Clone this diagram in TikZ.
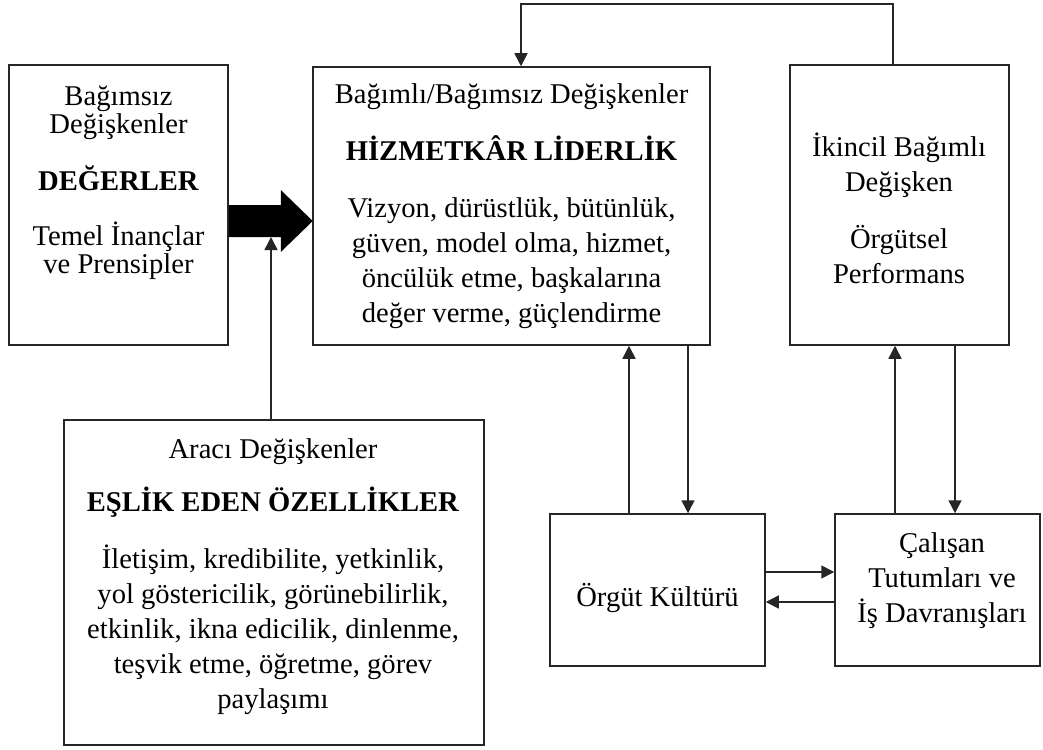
\documentclass[tikz,border=0pt]{standalone}
\usepackage{fontspec}
\setmainfont{Liberation Serif}
\usetikzlibrary{arrows.meta}

\begin{document}
\begin{tikzpicture}[x=1pt, y=-1pt,
    box/.style={draw=black!85, line width=1.5pt, inner sep=0pt},
    txt/.style={align=center, inner sep=0pt, anchor=base, font=\fontsize{28.6}{35}\selectfont},
    arr/.style={draw=black!85, line width=1.5pt, -{Triangle[length=13pt, width=13pt]}}]
    \useasboundingbox (0,0) rectangle (1043,749);

    % Boxes
    \node[box, minimum width=219, minimum height=280] (values)      at (118.5,205) {};
    \node[box, minimum width=397, minimum height=278] (leadership)  at (511.5,206) {};
    \node[box, minimum width=219, minimum height=280] (performance) at (899.5,205) {};
    \node[box, minimum width=420, minimum height=325] (traits)      at (274,582.5) {};
    \node[box, minimum width=215, minimum height=152] (culture)     at (657.5,590) {};
    \node[box, minimum width=205, minimum height=152] (attitudes)   at (937.5,590) {};

    % Texts (placed at the baseline of their last line)
    \node[txt, font=\fontsize{28.6}{28}\selectfont] (valuestext) at (118.5,273)
        {Bağımsız\\Değişkenler\\[25pt]\textbf{DEĞERLER}\\[27pt]Temel İnançlar\\ve Prensipler};
    \node[txt] (leadershiptext) at (511.5,322)
        {Bağımlı/Bağımsız Değişkenler\\[22pt]\textbf{HİZMETKÂR LİDERLİK}\\[22pt]Vizyon, dürüstlük, bütünlük,\\güven, model olma, hizmet,\\öncülük etme, başkalarına\\değer verme, güçlendirme};
    \node[txt] (performancetext) at (899,283)
        {İkincil Bağımlı\\Değişken\\[22pt]Örgütsel\\Performans};
    \node[txt] (traitstext) at (273,708)
        {Aracı Değişkenler\\[18pt]\textbf{EŞLİK EDEN ÖZELLİKLER}\\[22pt]İletişim, kredibilite, yetkinlik,\\yol göstericilik, görünebilirlik,\\etkinlik, ikna edicilik, dinlenme,\\teşvik etme, öğretme, görev\\paylaşımı};
    \node[txt] (culturetext) at (657.5,606) {Örgüt Kültürü};
    \node[txt] (attitudestext) at (942,622) {Çalışan\\Tutumları ve\\İş Davranışları};

    % Block arrow values -> leadership
    \fill[black] (values.east) -- ++(52,0) -- ++(0,-15) -- ++(32,31) -- ++(-32,31)
        -- ++(0,-15) -- ++(-52,0) -- cycle;
    \coordinate (medtip) at (271,237);
    \draw[arr] (traits.north -| medtip) -- (medtip);

    % Feedback loop
    \coordinate (fbright) at (893,4);
    \coordinate (fbleft)  at (521,4);
    \draw[arr] (fbright |- performance.north) -- (fbright) -- (fbleft) -- (fbleft |- leadership.north);

    % Vertical links
    \draw[arr] ([xshift=-28.5pt]culture.north) -- ([xshift=-28.5pt]culture.north |- leadership.south);
    \draw[arr] ([xshift=30.5pt]culture.north |- leadership.south) -- ([xshift=30.5pt]culture.north);
    \draw[arr] ([xshift=-42.5pt]attitudes.north) -- ([xshift=-42.5pt]attitudes.north |- performance.south);
    \draw[arr] ([xshift=17.5pt]attitudes.north |- performance.south) -- ([xshift=17.5pt]attitudes.north);

    % Horizontal links
    \draw[arr] ([yshift=18pt]culture.east) -- ([yshift=18pt]culture.east -| attitudes.west);
    \draw[arr] ([yshift=-12pt]attitudes.west) -- ([yshift=-12pt]attitudes.west -| culture.east);
\end{tikzpicture}
\end{document}
